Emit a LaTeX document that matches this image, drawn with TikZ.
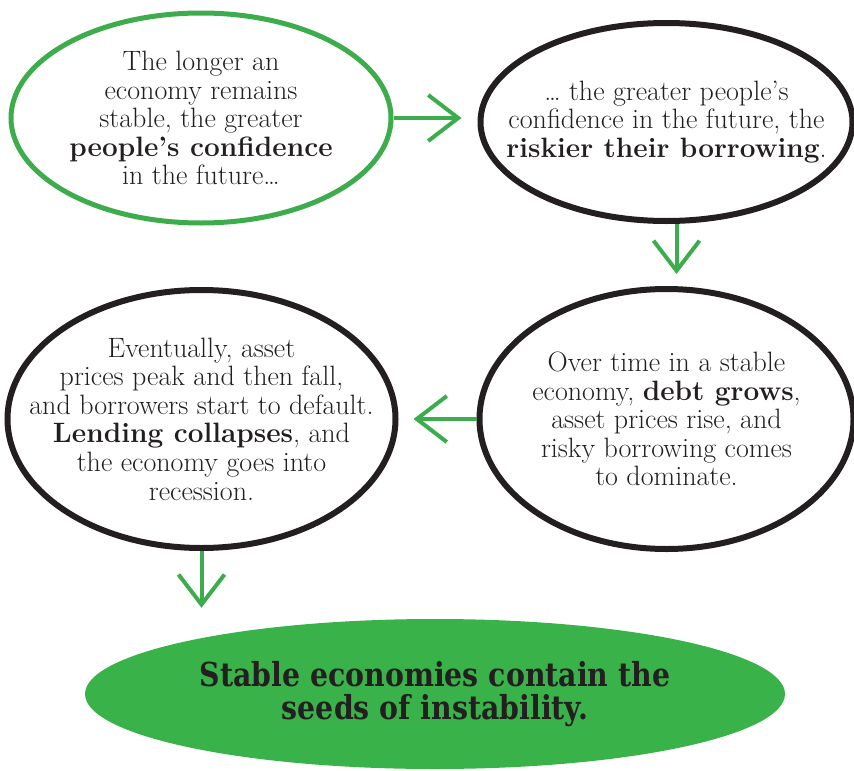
\documentclass[tikz,border=0pt]{standalone}
\usepackage{fontspec}
\newfontfamily\slabfont[FakeStretch=0.86]{DejaVu Serif}
\usepackage{tikz}
\usetikzlibrary{shapes.geometric, arrows.meta, positioning}
\usepackage{xcolor}
\definecolor{econgreen}{RGB}{60, 172, 76}
\definecolor{econfill}{RGB}{58, 178, 74}
\definecolor{econink}{RGB}{35, 31, 32}

\begin{document}
\begin{tikzpicture}[
    x=1pt, y=-1pt,
    bubble/.style={ellipse, inner sep=-60pt, align=center, text=econink,
                   font=\fontsize{28}{28.6}\selectfont,
                   draw=econink, line width=6pt},
    flow/.style={-{Straight Barb[length=30pt, width=46pt]}, line width=4pt,
                 color=econgreen}
  ]
    \useasboundingbox (0,0) rectangle (854,771);
    % Confidence
    \node[bubble, draw=econgreen, line width=5pt, minimum width=380pt,
          minimum height=210pt]
      at (201,118) (conf)
      {The longer an\\economy remains\\stable, the greater\\
       \textbf{people's confidence}\\in the future\ldots};
    % Risky borrowing
    \node[bubble, minimum width=372pt, minimum height=198pt, right=84pt of conf,
          yshift=-4pt]
      (risk) {\ldots{} the greater people's\\confidence in the future, the\\
       \textbf{riskier their borrowing}.};
    % Debt grows
    \node[bubble, minimum width=374pt, minimum height=260pt, below=62pt of risk]
      (debt) {Over time in a stable\\economy, \textbf{debt grows},\\
       asset prices rise, and\\risky borrowing comes\\to dominate.};
    % Lending collapses
    \node[bubble, minimum width=388pt, minimum height=258pt, left=78pt of debt]
      (lend) {Eventually, asset\\prices peak and then fall,\\
       and borrowers start to default.\\\textbf{Lending collapses}, and\\
       the economy goes into\\recession.};
    % Conclusion
    \node[ellipse, inner sep=-60pt, fill=econfill, minimum width=700pt,
          minimum height=150pt, align=center, text=econink,
          font=\slabfont\bfseries\fontsize{33}{33}\selectfont]
      at (435,694) (seeds)
      {Stable economies contain the\\seeds of instability.};

    % Arrows
    \draw[flow, shorten >=16pt] (conf) -- (risk.west |- conf.east);
    \draw[flow, shorten >=12pt] ([xshift=10pt]risk.south) -- ([xshift=10pt]debt.north);
    \draw[flow, shorten >=15pt] (debt.west) -- (lend.east);
    \draw[flow, shorten >=11pt] (lend.south) -- (lend.south |- seeds.north);
  \end{tikzpicture}
\end{document}
